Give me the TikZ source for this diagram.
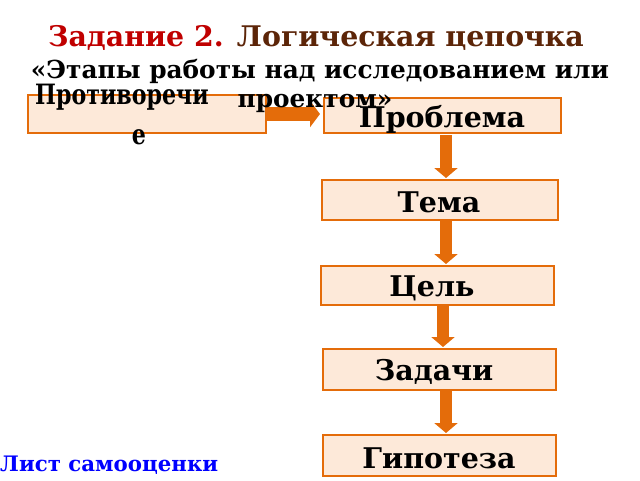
\documentclass[tikz,border=0pt]{standalone}
\usepackage{fontspec}
\setmainfont{DejaVu Serif}
\newfontfamily\condserif[FakeStretch=0.79]{DejaVu Serif}
\usetikzlibrary{arrows.meta}
\definecolor{boxfill}{HTML}{FDE9D9}
\definecolor{boxline}{HTML}{E46C0A}
\definecolor{titlered}{HTML}{C00000}
\definecolor{titlebrown}{HTML}{5C2508}
\begin{document}
\begin{tikzpicture}[x=1pt,y=-1pt,
  stage/.style={draw=boxline,line width=1.6pt,fill=boxfill,minimum height=37pt,inner sep=0pt,anchor=north west},
  stagetext/.style={font=\bfseries\fontsize{28.5}{30}\selectfont,text=black,inner sep=0pt},
  flow/.style={boxline,line width=12pt,-{Triangle[width=23pt,length=10pt]}},
  hflow/.style={boxline,line width=14pt,-{Triangle[width=26pt,length=10pt]}},
]
\useasboundingbox (0,0) rectangle (640,480);
% title
\node[inner sep=0pt,anchor=base] (title) at (316,46) {\bfseries\fontsize{28.4}{30}\selectfont\color{titlered}Задание 2. \color{titlebrown}Логическая цепочка};
\node[inner sep=0pt,anchor=base] (sub1) at (320,78) {\bfseries\fontsize{24.8}{26}\selectfont «Этапы работы над исследованием или};
% boxes
\node[stage,minimum width=238pt,minimum height=38pt] (b0) at (27,94) {};
\node[stage,minimum width=237pt,minimum height=35pt] (b1) at (323,97) {};
\node[stage,minimum width=236pt,minimum height=40pt] (b2) at (321,179) {};
\node[stage,minimum width=233pt,minimum height=39pt] (b3) at (320,265) {};
\node[stage,minimum width=233pt,minimum height=41pt] (b4) at (322,348) {};
\node[stage,minimum width=233pt,minimum height=41pt] (b5) at (322,434) {};
% arrows
\coordinate (h0) at (266,114);
\coordinate (h1) at (320,114);
\draw[hflow] (h0) -- (h1);
\coordinate (v1a) at (446,135);
\coordinate (v1b) at (446,178);
\coordinate (v2a) at (446,220);
\coordinate (v2b) at (446,264);
\coordinate (v3a) at (443,305);
\coordinate (v3b) at (443,347);
\coordinate (v4a) at (446,390);
\coordinate (v4b) at (446,433);
\draw[flow] (v1a) -- (v1b);
\draw[flow] (v2a) -- (v2b);
\draw[flow] (v3a) -- (v3b);
\draw[flow] (v4a) -- (v4b);
% texts
\node[inner sep=0pt,anchor=base west] (t0a) at (35,104) {\condserif\bfseries\fontsize{28}{30}\selectfont Противоречи};
\node[inner sep=0pt,anchor=base] (t0b) at (139,144) {\condserif\bfseries\fontsize{28}{30}\selectfont е};
\node[inner sep=0pt,anchor=base] (sub2) at (315,107) {\bfseries\fontsize{24.8}{26}\selectfont проектом»};
\node[stagetext,anchor=base] (t1) at (442,127) {Проблема};
\node[stagetext,anchor=base] (t2) at (439,212) {Тема};
\node[stagetext,anchor=base] (t3) at (432,296) {Цель};
\node[stagetext,anchor=base] (t4) at (434,380) {Задачи};
\node[stagetext,anchor=base] (t5) at (439,468) {Гипотеза};
\node[inner sep=0pt,anchor=base west] (self) at (0,471) {\bfseries\fontsize{21.3}{23}\selectfont\color{blue}Лист самооценки};
\end{tikzpicture}
\end{document}
